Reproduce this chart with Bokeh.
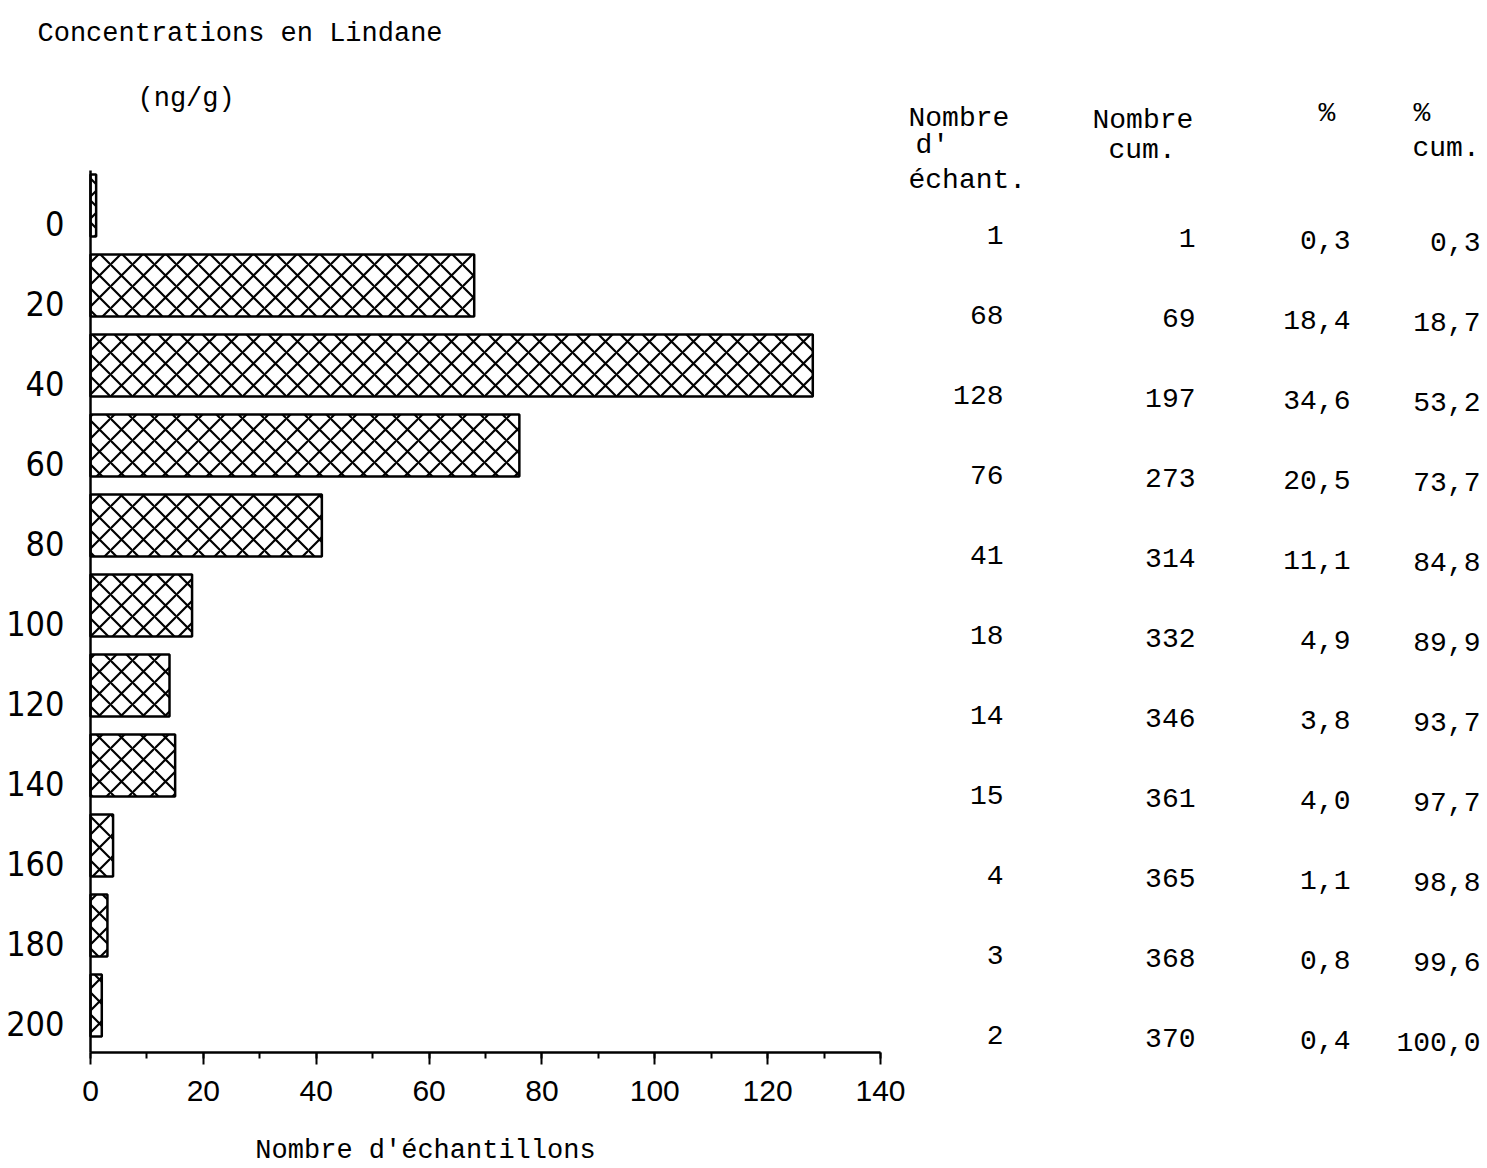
from bokeh.plotting import figure
from bokeh.models import Range1d, FixedTicker, SingleIntervalTicker
from bokeh.core.properties import value
from bokeh.embed import file_html
from bokeh.resources import INLINE

# ---- data ----
conc = [0, 20, 40, 60, 80, 100, 120, 140, 160, 180, 200]
n_samples = [1, 68, 128, 76, 41, 18, 14, 15, 4, 3, 2]
n_cum = [1, 69, 197, 273, 314, 332, 346, 361, 365, 368, 370]
pct = ["0,3", "18,4", "34,6", "20,5", "11,1", "4,9", "3,8", "4,0", "1,1", "0,8", "0,4"]
pct_cum = ["0,3", "18,7", "53,2", "73,7", "84,8", "89,9", "93,7", "97,7", "98,8", "99,6", "100,0"]
title_text = "Concentrations en Lindane"
unit_text = "(ng/g)"
x_label = "Nombre d'échantillons"
header_lines = ["Nombre", "d'", "échant.", "Nombre", "cum.", "%", "%", "cum."]

MONO = "Liberation Mono"
COND = "DejaVu Sans Condensed, sans-serif"

# ---- layout (picture pixel positions converted to data space) ----
W, H = 1487, 1168
X0_PX, PX_PER_X = 90.0, 790.0 / 140.0      # x = 0 at px 90, 140 at px 880
Y0_PX, PX_PER_Y = 205.0, 4.0               # class 0 at px 205, 80 px per class


def px_x(px):
    return (px - X0_PX) / PX_PER_X


def px_y(py):
    return (py - Y0_PX) / PX_PER_Y


p = figure(width=W, height=H, title=None,
           min_border_left=0, min_border_right=0, min_border_top=0, min_border_bottom=0,
           x_range=Range1d(px_x(0), px_x(W)),
           y_range=Range1d(start=px_y(H), end=px_y(0)),
           output_backend="svg", toolbar_location=None)
p.xgrid.visible = False
p.ygrid.visible = False
p.outline_line_color = None
p.background_fill_color = "white"
p.border_fill_color = "white"

p.hbar(y=conc, right=n_samples, left=0, height=15.5, fill_color="white",
       line_color="black", line_width=2.5, hatch_pattern="x", hatch_scale=22,
       hatch_weight=2.2, hatch_color="black")

y_top, y_bot = px_y(170), px_y(1052)

xa = p.xaxis[0]
xa.fixed_location = y_bot
xa.bounds = (0, 140)
xa.ticker = SingleIntervalTicker(interval=20, num_minor_ticks=2)
xa.axis_line_width = 2.5
xa.major_tick_out = 12
xa.major_tick_in = 0
xa.minor_tick_out = 6
xa.minor_tick_in = 0
xa.major_tick_line_width = 2
xa.minor_tick_line_width = 2
xa.major_label_text_font = "Liberation Sans"
xa.major_label_text_font_size = "30px"
xa.major_label_text_color = "black"
xa.major_label_standoff = 16

ya = p.yaxis[0]
ya.fixed_location = 0
ya.bounds = (y_top, y_bot)
ya.ticker = FixedTicker(ticks=[c + 4.5 for c in conc])
ya.major_label_overrides = {c + 4.5: str(c) for c in conc}
ya.axis_line_width = 2.5
ya.major_tick_out = 0
ya.major_tick_in = 0
ya.minor_tick_out = 0
ya.minor_tick_in = 0
ya.major_label_text_font = COND
ya.major_label_text_font_size = "34px"
ya.major_label_text_color = "black"
ya.major_label_standoff = 26

# titles
p.text(x=[px_x(37), px_x(137)], y=[px_y(33), px_y(98)], text=[title_text, unit_text],
       text_font=value(MONO), text_font_size="27px", text_align="left",
       text_baseline="middle", text_color="black")
p.text(x=[px_x(425)], y=[px_y(1150)], text=[x_label],
       text_font=value(MONO), text_font_size="27px", text_align="center",
       text_baseline="middle", text_color="black")

# table
col_right = [px_x(1003), px_x(1195), px_x(1350), px_x(1480)]
col_dy = [7.3, 8.0, 8.7, 9.0]
columns = [[str(v) for v in n_samples], [str(v) for v in n_cum], pct, pct_cum]
for cx, dy, vals in zip(col_right, col_dy, columns):
    p.text(x=[cx] * len(conc), y=[c + dy for c in conc], text=vals,
           text_font=value(MONO), text_font_size="28px", text_align="right",
           text_baseline="middle", text_color="black")

hdr_x = [px_x(v) for v in [908, 915, 908, 1092, 1108, 1318, 1413, 1412]]
hdr_y = [px_y(v) for v in [118, 145, 180, 120, 150, 113, 113, 148]]
p.text(x=hdr_x, y=hdr_y, text=header_lines, text_font=value(MONO), text_font_size="28px",
       text_align="left", text_baseline="middle", text_color="black")

open("out.html", "w").write(file_html(p, INLINE))
